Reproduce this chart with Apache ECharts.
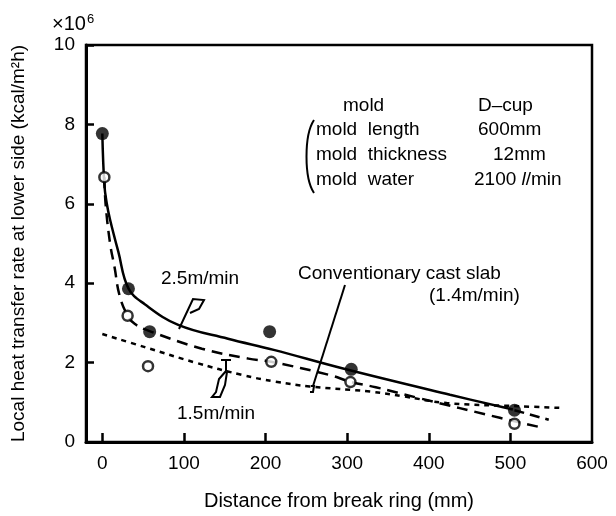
<!DOCTYPE html>
<html><head><meta charset="utf-8">
<script src="https://cdn.jsdelivr.net/npm/echarts@6/dist/echarts.min.js"></script>
<style>html,body{margin:0;padding:0;background:#fff}#c{width:616px;height:516px}</style>
</head><body><div id="c"></div>
<script>
// ---- data ----
const xLabelValues = [0, 100, 200, 300, 400, 500, 600];
const xTickValues = [0, 100, 200, 300, 400, 500];
const yLabelValues = [0, 2, 4, 6, 8, 10];
// measured points, 2.5 m/min (filled)
const pts25 = [[0, 7.77], [32, 3.86], [58, 2.78], [205, 2.78], [305, 1.83], [505, 0.8]];
// measured points, 1.5 m/min (open)
const pts15 = [[2.5, 6.67], [31, 3.18], [56, 1.91], [207, 2.02], [304, 1.51], [505, 0.46]];
// fitted curve 2.5 m/min (solid)
const curve25 = [[0, 7.77], [2.5, 6.48], [5.5, 6.0], [9.5, 5.6], [19.5, 4.8], [32, 3.87], [52, 3.47], [93, 2.95], [154, 2.6], [210, 2.32], [295, 1.85], [426, 1.19], [503, 0.82]];
const curve25ext = [[505, 0.8], [547, 0.56]];
// fitted curve 1.5 m/min (dashed)
const curve15 = [[2.5, 6.67], [4, 6.0], [9.5, 5.0], [15, 4.4], [21, 3.7], [31, 3.18], [40, 2.97], [57, 2.8], [122, 2.35], [179, 2.1], [207, 2.02], [278, 1.69], [305, 1.51], [335, 1.38], [389, 1.1], [487, 0.61], [535, 0.38]];
// conventional cast slab 1.4 m/min (dotted)
const curveConv = [[0, 2.72], [52, 2.39], [114, 2.0], [171, 1.69], [212, 1.52], [254, 1.40], [328, 1.27], [369, 1.15], [422, 0.98], [512, 0.9], [561, 0.86]];

const FONT = 'Liberation Sans';
const chart = echarts.init(document.getElementById('c'), null, {renderer: 'canvas'});
const lineBase = {type: 'line', showSymbol: false, smooth: 0.4, silent: true, z: 3};
const txt = (x, y, s, align) => ({type: 'text', x: x, y: y, style: {text: s, font: '19px "' + FONT + '"', fill: '#000', align: align || 'left', verticalAlign: 'middle'}});
const poly = (pts) => ({type: 'polyline', shape: {points: pts}, style: {stroke: '#000', lineWidth: 2, fill: null}});

chart.setOption({
  backgroundColor: '#fff',
  animation: false,
  grid: {left: 86, right: 24, top: 45, bottom: 68, show: true, borderColor: '#000', borderWidth: 2.5, backgroundColor: 'transparent'},
  xAxis: {
    type: 'value', min: -20, max: 600,
    name: 'Distance from break ring (mm)', nameLocation: 'middle', nameGap: 49,
    nameTextStyle: {fontFamily: FONT, fontSize: 20, color: '#000'},
    axisLine: {show: true, onZero: false, lineStyle: {color: '#000', width: 3}},
    axisTick: {show: true, inside: true, length: 9, lineStyle: {color: '#000', width: 2.5}, customValues: xTickValues},
    axisLabel: {fontFamily: FONT, fontSize: 19, color: '#000', margin: 12, customValues: xLabelValues},
    splitLine: {show: false}
  },
  yAxis: {
    type: 'value', min: 0, max: 10, interval: 2,
    name: 'Local heat transfer rate at lower side (kcal/m²h)', nameLocation: 'middle', nameGap: 58, nameRotate: 90,
    nameTextStyle: {fontFamily: FONT, fontSize: 19, color: '#000'},
    axisLine: {show: true, onZero: false, lineStyle: {color: '#000', width: 3}},
    axisTick: {show: true, inside: true, length: 8, lineStyle: {color: '#000', width: 2.5}, customValues: yLabelValues},
    axisLabel: {fontFamily: FONT, fontSize: 19, color: '#000', margin: 11, customValues: yLabelValues},
    splitLine: {show: false}
  },
  series: [
    Object.assign({}, lineBase, {name: '2.5m/min', data: curve25, lineStyle: {color: '#000', width: 2.5, type: 'solid'}}),
    Object.assign({}, lineBase, {name: '2.5m/min ext', data: curve25ext, smooth: false, lineStyle: {color: '#000', width: 2.5, type: [10, 6]}}),
    Object.assign({}, lineBase, {name: '1.5m/min', data: curve15, lineStyle: {color: '#000', width: 2.5, type: [11, 7]}}),
    Object.assign({}, lineBase, {name: 'Conventionary cast slab', data: curveConv, lineStyle: {color: '#000', width: 2.5, type: [5, 5]}}),
    {type: 'scatter', name: 'filled', data: pts25, symbol: 'circle', symbolSize: 13, itemStyle: {color: '#000', borderColor: '#000', borderWidth: 0}, z: 5, silent: true},
    {type: 'scatter', name: 'open', data: pts15, symbol: 'circle', symbolSize: 10, itemStyle: {color: '#fff', borderColor: '#000', borderWidth: 2.5}, z: 5, silent: true}
  ],
  graphic: [
    {type: 'text', x: 52, y: 24, style: {text: '×10{s|6}', font: '20px "' + FONT + '"', fill: '#000', verticalAlign: 'middle', rich: {s: {fontSize: 13, fontFamily: FONT, verticalAlign: 'top', padding: [0, 0, 10, 1]}}}},
    txt(343, 106, 'mold'), txt(478, 106, 'D–cup'),
    txt(316, 130, 'mold  length'), txt(478, 130, '600mm'),
    txt(316, 155, 'mold  thickness'), txt(493, 155, '12mm'),
    txt(316, 180, 'mold  water'),
    {type: 'text', x: 474, y: 180, style: {text: '2100 {i|l}/min', font: '19px "' + FONT + '"', fill: '#000', verticalAlign: 'middle', rich: {i: {fontStyle: 'italic', fontFamily: FONT, fontSize: 19}}}},
    {type: 'bezierCurve', shape: {x1: 314, y1: 120, x2: 314, y2: 193, cpx1: 304, cpy1: 135, cpx2: 304, cpy2: 178}, style: {stroke: '#000', lineWidth: 2, fill: null}},
    txt(161, 279, '2.5m/min'),
    txt(298, 274, 'Conventionary cast slab'),
    txt(429, 296, '(1.4m/min)'),
    txt(177, 414, '1.5m/min'),
    poly([[179, 329], [186, 314], [193, 299], [204, 300], [199, 309], [190, 313]]),
    poly([[221, 360], [231, 360]]),
    poly([[226, 360], [226, 371], [219, 379], [216, 392], [212, 397], [220, 397], [225, 385], [227, 372]]),
    poly([[345, 285], [313, 386]]),
    poly([[311, 386], [314, 386], [313, 392], [310, 392]])
  ]
});
</script></body></html>
